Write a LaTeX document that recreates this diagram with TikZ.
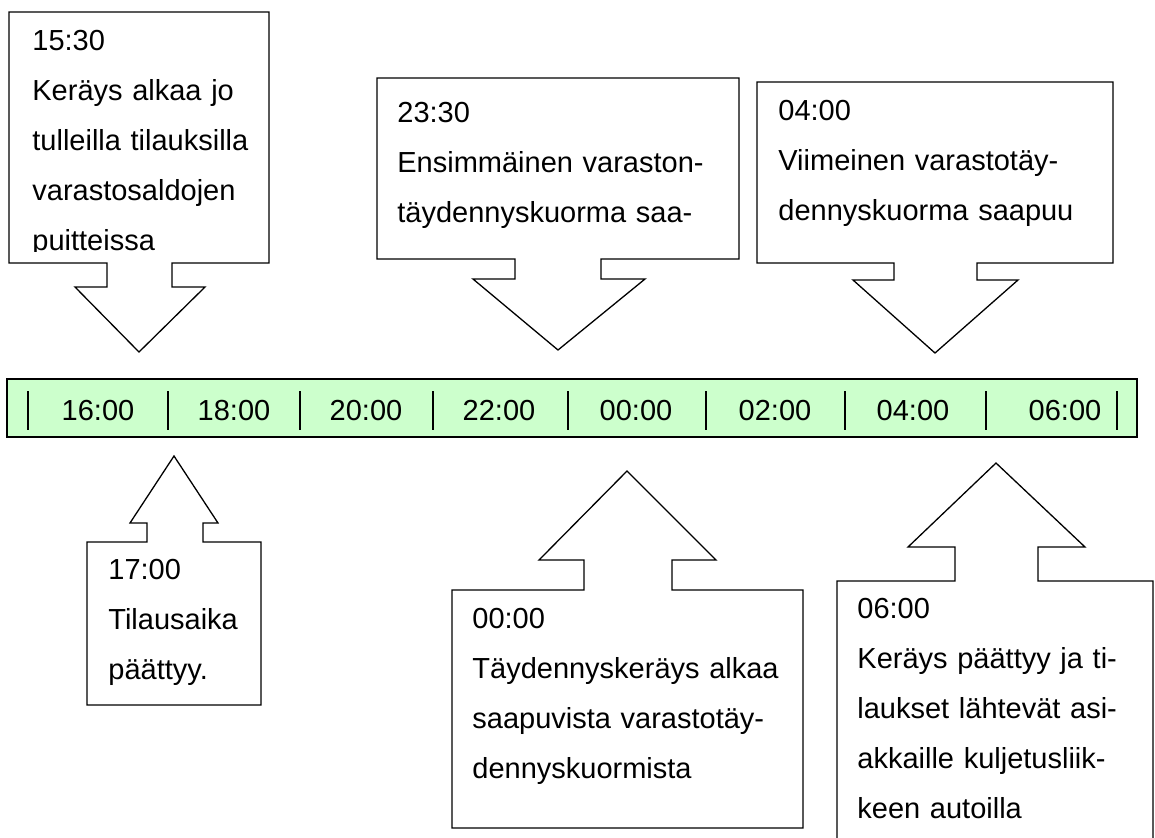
\documentclass[tikz,border=0pt]{standalone}
\usepackage{fontspec}
\setmainfont{Liberation Sans}
\definecolor{barfill}{RGB}{204,255,204}
\newcommand{\jline}[1]{\makebox[\linewidth][s]{#1}}
\begin{document}
\begin{tikzpicture}[x=0.5pt, y=-0.5pt,
	callout/.style={draw, fill=white, line width=0.65pt},
	boxtext/.style={anchor=base west, inner sep=0pt, align=left, text width=#1, font=\fontsize{14.5}{25}\selectfont},
	hour/.style={anchor=base, inner sep=0pt, font=\fontsize{14.5}{17}\selectfont}]
	\clip (0,0) rectangle (1155,837);
	% callouts above the bar
	\draw[callout] (9,12) -- (269,12) -- (269,263) -- (172,263) -- (172,287) -- (205,287) -- (139,352) -- (75,287) -- (107,287) -- (107,263) -- (9,263) -- cycle;
	\draw[callout] (377,78) -- (739,78) -- (739,259) -- (601,259) -- (601,279) -- (645,279) -- (558,350) -- (473,279) -- (515,279) -- (515,259) -- (377,259) -- cycle;
	\draw[callout] (757,82) -- (1113,82) -- (1113,263) -- (977,263) -- (977,280) -- (1018,280) -- (935,353) -- (853,280) -- (894,280) -- (894,263) -- (757,263) -- cycle;
	\begin{scope}
		\clip (9,12) rectangle (269,251);
		\node[boxtext=108pt] (t1530) at (32,50) {15:30\\ \jline{Keräys alkaa jo}\\ \jline{tulleilla tilauksilla}\\ varastosaldojen\\ puitteissa};
	\end{scope}
	\node[boxtext=162.5pt] (t2330) at (397,122) {23:30\\ \jline{Ensimmäinen varaston-}\\ \jline{täydennyskuorma saa-}};
	\node[boxtext=157.5pt] (t0400) at (778,120) {04:00\\ \jline{Viimeinen varastotäy-}\\ dennyskuorma saapuu};
	% time bar
	\draw[fill=barfill, line width=0.8pt] (7,379) rectangle (1137,437);
	\foreach \x in {28,168,300,433,568,706,845,986,1117}
		\draw[line width=0.65pt] (\x,391) -- (\x,430);
	\foreach \x/\h [count=\i] in {98/16:00, 234/18:00, 366/20:00, 499/22:00, 636/00:00, 775/02:00, 913/04:00, 1065/06:00}
		\node[hour] (hour\i) at (\x,420) {\h};
	% callouts below the bar
	\draw[callout] (87,542) -- (147,542) -- (147,523) -- (130,523) -- (174,456) -- (218,523) -- (203,523) -- (203,542) -- (261,542) -- (261,705) -- (87,705) -- cycle;
	\draw[callout] (452,590) -- (584,590) -- (584,560) -- (539,560) -- (627,471) -- (716,560) -- (672,560) -- (672,590) -- (803,590) -- (803,828) -- (452,828) -- cycle;
	\draw[callout] (837,581) -- (955,581) -- (955,547) -- (908,547) -- (996,463) -- (1085,547) -- (1038,547) -- (1038,581) -- (1153,581) -- (1153,845) -- (837,845) -- cycle;
	\node[boxtext=75pt] (t1700) at (108,579) {17:00\\ Tilausaika\\ päättyy.};
	\node[boxtext=155pt] (t0000) at (472,628) {00:00\\ Täydennyskeräys alkaa\\ saapuvista varastotäy-\\ dennyskuormista};
	\node[boxtext=140pt] (t0600) at (857,618) {06:00\\ Keräys päättyy ja ti-\\ laukset lähtevät asi-\\ akkaille kuljetusliik-\\ keen autoilla};
\end{tikzpicture}
\end{document}
